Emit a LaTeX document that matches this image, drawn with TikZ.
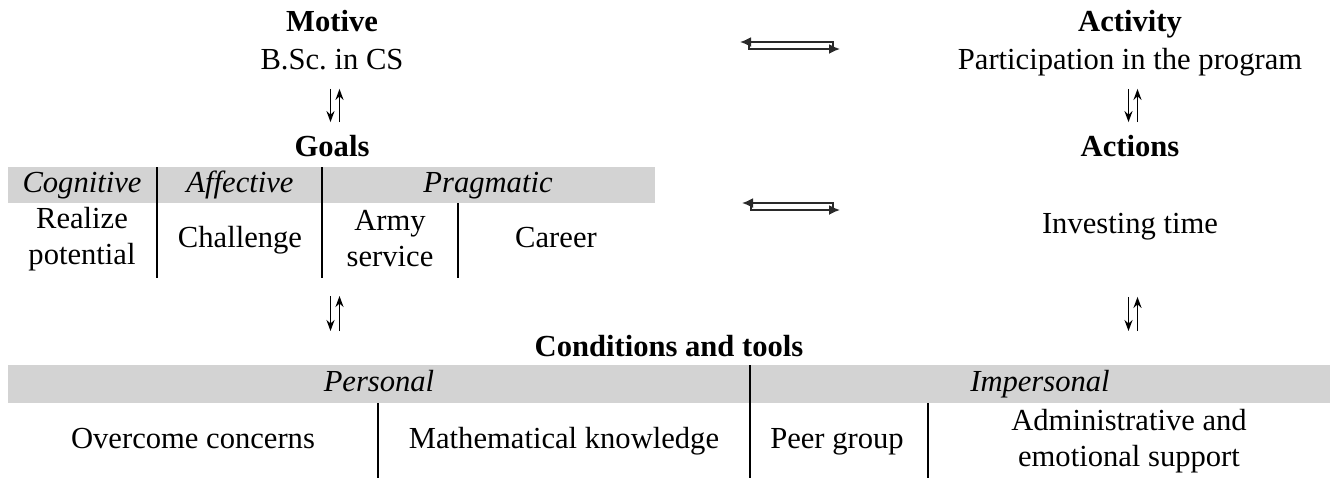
\documentclass[tikz,border=0pt]{standalone}
\usepackage{fontspec}
\setmainfont{Liberation Serif}
\usetikzlibrary{arrows.meta}
\definecolor{bandgray}{HTML}{D3D3D3}
\definecolor{linegray}{HTML}{2A2A2A}

\begin{document}
\begin{tikzpicture}[
    x=0.5pt, y=-0.5pt,
    font=\fontsize{15.3pt}{18pt}\selectfont,
    lbl/.style={
        inner sep=0pt,
        text height=10pt,
        text depth=3pt
    },
    head/.style={
        lbl,
        font=\fontsize{15.3pt}{18pt}\selectfont\bfseries
    },
    cat/.style={
        lbl,
        font=\fontsize{15.3pt}{18pt}\selectfont\itshape
    },
    cell/.style={
        inner sep=0pt,
        align=center
    },
    band/.style={fill=bandgray},
    rule/.style={line width=1pt},
    updown/.style={
        -{Stealth[length=5.5pt,width=4pt]},
        line width=0.9pt
    },
    pairarrow/.style={
        -{Latex[length=5.5pt,width=5pt]},
        draw=linegray,
        line width=0.9pt
    }
]
\useasboundingbox (0,0) rectangle (1338,478);

% Motive and activity
\node[head] (motive) at (332,24) {Motive};
\node[lbl] (bsc) at (332,62) {B.Sc.\ in CS};
\node[head] (activity) at (1130,24) {Activity};
\node[lbl] (program) at (1130,62) {Participation in the program};

% Goals and actions
\node[head] (goals) at (332,149) {Goals};
\node[head] (actions) at (1130,149) {Actions};

% Goals table
\fill[band] (8,167) rectangle (655,203);
\node[cat] (cognitive) at (82,185) {Cognitive};
\node[cat] (affective) at (240,185) {Affective};
\node[cat] (pragmatic) at (488,185) {Pragmatic};
\draw[rule] (157,167) -- (157,278);
\draw[rule] (322,167) -- (322,278);
\draw[rule] (458,203) -- (458,278);
\node[cell] (realize) at (82,239) {Realize\\potential};
\node[lbl] (challenge) at (240,240) {Challenge};
\node[cell] (army) at (390,239) {Army\\service};
\node[lbl] (career) at (556,240) {Career};

\node[lbl] (invest) at (1130,226) {Investing time};

% Conditions and tools
\node[head] (conditions) at (669,349) {Conditions and tools};
\fill[band] (8,365) rectangle (1330,403);
\node[cat] (personal) at (379,384) {Personal};
\node[cat] (impersonal) at (1040,384) {Impersonal};
\draw[rule] (750,365) -- (750,478);
\draw[rule] (378,403) -- (378,478);
\draw[rule] (928,403) -- (928,478);
\node[lbl] (overcome) at (193,441) {Overcome concerns};
\node[lbl] (mathknow) at (564,441) {Mathematical knowledge};
\node[lbl] (peer) at (837,441) {Peer group};
\node[cell] (support) at (1129,441) {Administrative and\\emotional support};

% Vertical links, down and up
\coordinate (goalsbase) at (332,278);
\coordinate (condL) at (332,365);
\coordinate (condR) at (1130,365);
\foreach \top/\bot/\a/\b in {bsc/goals/6.75pt/6.75pt,program/actions/6.75pt/6.75pt,
                             goalsbase/condL/9pt/17pt,invest/condR/28.75pt/17pt} {
    \draw[updown,shorten <=\a,shorten >=\b]
        ([xshift=-0.75pt]\top.south) -- ([xshift=-0.75pt]\bot.north);
    \draw[updown,shorten <=\b,shorten >=\a]
        ([xshift=3.75pt]\bot.north) -- ([xshift=3.75pt]\top.south);
}

% Horizontal links, left and right
\coordinate (upL) at (740,45.5);
\coordinate (upR) at (840,45.5);
\coordinate (midL) at (742,206.5);
\coordinate (midR) at (840,206.5);
\foreach \l/\r in {upL/upR,midL/midR} {
    \draw[pairarrow] ([xshift=-3.5pt,yshift=-1.75pt]\r) |- ([yshift=1.75pt]\l);
    \draw[pairarrow] ([xshift=4.5pt,yshift=1.75pt]\l) |- ([yshift=-1.75pt]\r);
}

\end{tikzpicture}
\end{document}
